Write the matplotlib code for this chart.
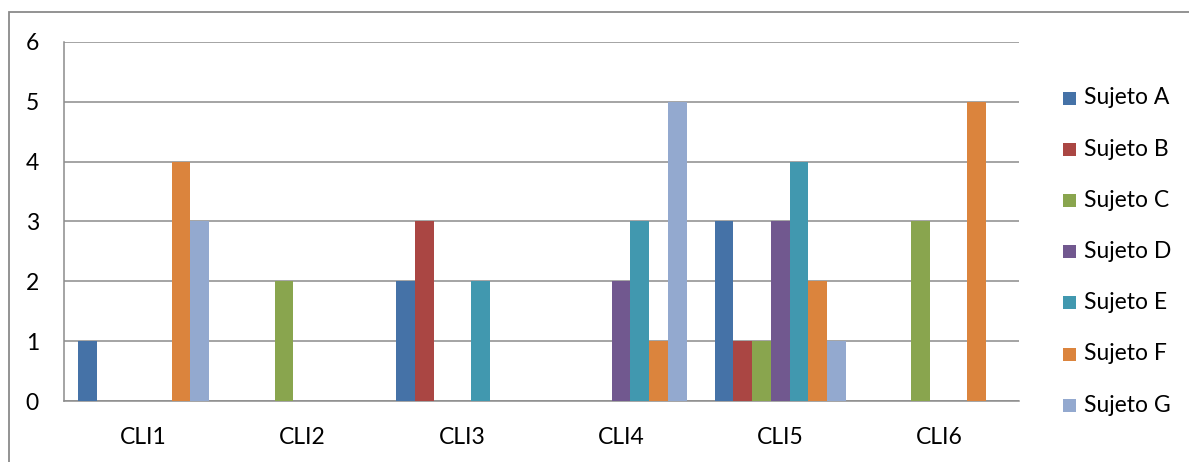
import matplotlib
matplotlib.use("Agg")
import matplotlib.pyplot as plt
from matplotlib.patches import Rectangle
import numpy as np

categories = ["CLI1", "CLI2", "CLI3", "CLI4", "CLI5", "CLI6"]
series_names = ["Sujeto A", "Sujeto B", "Sujeto C", "Sujeto D", "Sujeto E", "Sujeto F", "Sujeto G"]
sujeto_a = [1, 0, 2, 0, 3, 0]
sujeto_b = [0, 0, 3, 0, 1, 0]
sujeto_c = [0, 2, 0, 0, 1, 3]
sujeto_d = [0, 0, 0, 2, 3, 0]
sujeto_e = [0, 0, 2, 3, 4, 0]
sujeto_f = [4, 0, 0, 1, 2, 5]
sujeto_g = [3, 0, 0, 5, 1, 0]
series_values = [sujeto_a, sujeto_b, sujeto_c, sujeto_d, sujeto_e, sujeto_f, sujeto_g]
y_ticks = [0, 1, 2, 3, 4, 5, 6]

colors = ["#4572A7", "#AA4643", "#89A54E", "#71588F", "#4198AF", "#DB843D", "#93A9CF"]

plt.rcParams["font.family"] = ["Lato", "DejaVu Sans"]
FS = 16.5

W, H = 1189, 462
fig = plt.figure(figsize=(W / 100, H / 100), dpi=100)
fig.patch.set_facecolor("white")

# chart-area frame (runs off the right and bottom edges)
fig.patches.append(Rectangle((9 / W, -0.1), 1.2, (H - 12) / H + 0.1,
                             transform=fig.transFigure, fill=False,
                             edgecolor="#8a8a8a", linewidth=1.3))

ax = fig.add_axes([64 / W, (H - 401) / H, (1019 - 64) / W, (401 - 42) / H])
x = np.arange(len(categories))
bw = 0.1175
for i, (vals, c) in enumerate(zip(series_values, colors)):
    ax.bar(x + (i - 3) * bw, vals, width=bw, color=c, zorder=3, linewidth=0)

ax.set_xlim(-0.5, len(categories) - 0.5)
ax.set_ylim(0, 6)
ax.set_yticks(y_ticks)
ax.set_xticks(x)
ax.set_xticklabels(categories)
ax.tick_params(axis="both", length=0, labelsize=FS, colors="black")
ax.tick_params(axis="y", pad=18)
ax.tick_params(axis="x", pad=19)
ax.grid(axis="y", color="#8c8c8c", linewidth=1.1, zorder=1)
for s in ["top", "right"]:
    ax.spines[s].set_visible(False)
for s in ["left", "bottom"]:
    ax.spines[s].set_color("#8c8c8c")
    ax.spines[s].set_linewidth(1.1)

# legend drawn as swatches and labels
for i, (name, c) in enumerate(zip(series_names, colors)):
    yc = 98 + i * 51.2
    fig.patches.append(Rectangle((1063 / W, (H - yc - 6.5) / H), 13 / W, 13 / H,
                                 transform=fig.transFigure, facecolor=c, edgecolor="none"))
    fig.text(1084 / W, (H - yc) / H, name, fontsize=FS, va="center", ha="left")

fig.savefig("out.png", dpi=100)
